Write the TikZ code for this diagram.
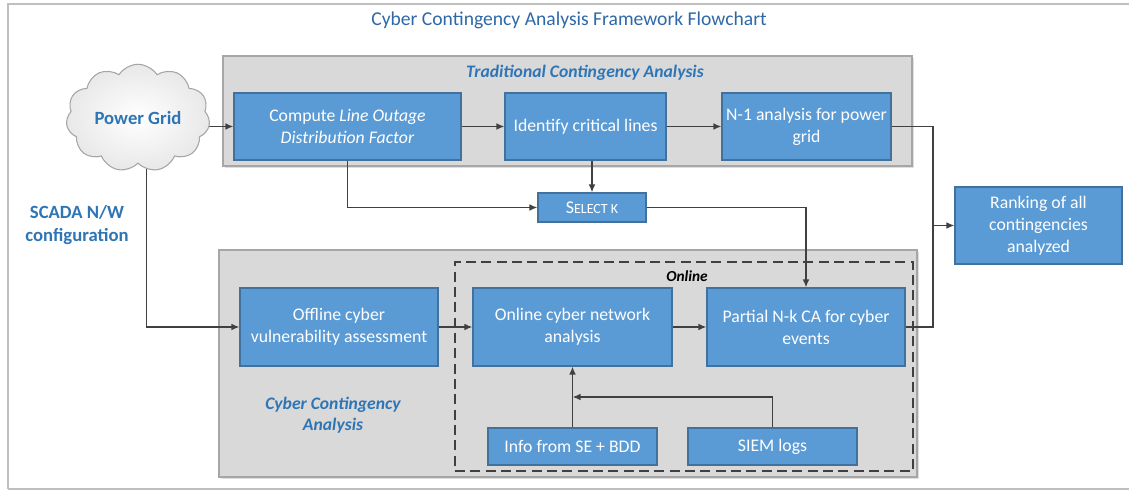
\documentclass[tikz,border=0pt]{standalone}
\usepackage{fontspec}
\setmainfont{Carlito}
\usetikzlibrary{shapes.symbols,arrows.meta,shadows,calc}
\definecolor{boxblue}{HTML}{5B9BD5}
\definecolor{boxedge}{HTML}{41719C}
\definecolor{panelgray}{HTML}{D9D9D9}
\definecolor{paneledge}{HTML}{A6A6A6}
\definecolor{titleblue}{HTML}{2F68A8}
\definecolor{labelblue}{HTML}{2E75B6}
\definecolor{wire}{HTML}{404040}
\definecolor{framegray}{HTML}{BFBFBF}
\pgfdeclarelayer{back}
\pgfdeclarelayer{mid}
\pgfsetlayers{back,mid,main}
\tikzset{
  panel/.style={draw=paneledge, fill=panelgray, line width=0.9pt, inner sep=0pt,
    drop shadow={shadow xshift=1.2pt, shadow yshift=-1.2pt, opacity=0.25}},
  dashbox/.style={draw=wire, line width=1.6pt, dash pattern=on 7.5pt off 4pt, inner sep=0pt},
  blk/.style={draw=boxedge, fill=boxblue, line width=0.8pt, inner sep=0pt, text=white,
    align=center, font=\fontsize{13.3}{16.5}\selectfont,
    drop shadow={shadow xshift=0.9pt, shadow yshift=-0.9pt, opacity=0.25}},
  wireline/.style={draw=wire, line width=1.1pt},
  arr/.style={wireline, -{Latex[length=6pt,width=5pt]}},
  bluelabel/.style={text=labelblue, align=center, font=\fontsize{14}{17.5}\selectfont\bfseries},
  panellabel/.style={text=labelblue, align=center, font=\fontsize{13.2}{16}\selectfont\bfseries\itshape},
}
% rectangle node from pixel corners: style, name, x1, y1, x2, y2, text
\newcommand{\pxbox}[7]{%
  \node[#1, rectangle, minimum width={(#5-#3)*0.75pt}, minimum height={(#6-#4)*0.75pt}]
    (#2) at ({(#3+#5)/2},{(#4+#6)/2}) {#7};}
\begin{document}
\begin{tikzpicture}[x=0.75pt,y=-0.75pt]
\useasboundingbox (0,0) rectangle (1129,491);
\clip (0,0) rectangle (1129,491);
\begin{pgfonlayer}{back}
\fill[white] (0,0) rectangle (1129,491);
\draw[framegray, line width=1.6pt] (8,489) -- (8,4) -- (1140,4);
\draw[framegray, line width=1.6pt] (8,489) -- (1140,489);
\pxbox{panel}{trad}{223}{56}{912}{166}{}
\pxbox{panel}{cyb}{219}{250}{917}{477}{}
\pxbox{dashbox}{onbox}{455}{262}{913}{471}{}
\end{pgfonlayer}

\node[text=titleblue, font=\fontsize{14.7}{17}\selectfont] (title) at (569,20) {Cyber Contingency Analysis Framework Flowchart};

\node[panellabel] (tradlbl) at (585,73) {Traditional Contingency Analysis};
\node[panellabel] (cyblbl) at (333,415) {Cyber Contingency\\Analysis};
\node[font=\fontsize{11.5}{13}\selectfont\bfseries\itshape] (onlbl) at (687,276) {Online};

\node[cloud, cloud puffs=11, cloud puff arc=115, aspect=1.5, draw=paneledge, line width=0.8pt,
  inner color=white, outer color=gray!18, minimum width=98pt, minimum height=67pt,
  font=\fontsize{14}{16}\selectfont\bfseries, text=labelblue] (pg) at (138,118) {Power Grid};

\node[bluelabel] (scada) at (77,225) {SCADA N/W\\configuration};

\pxbox{blk}{cmp}{234}{93}{461}{160}{Compute \textit{Line Outage}\\\textit{Distribution Factor}}
\pxbox{blk}{idf}{505}{93}{666}{160}{Identify critical lines}
\pxbox{blk}{n1}{722}{93}{891}{160}{N-1 analysis for power\\grid}
\pxbox{blk}{rank}{955}{187}{1122}{264}{Ranking of all\\contingencies\\analyzed}
\pxbox{blk}{sel}{538}{193}{646}{222}{{\fontsize{13.5}{14}\selectfont S}{\fontsize{10.5}{12}\selectfont ELECT K}}
\pxbox{blk}{off}{240}{288}{438}{366}{Offline cyber\\vulnerability assessment}
\pxbox{blk}{onl}{473}{288}{672}{366}{Online cyber network\\analysis}
\pxbox{blk}{pnk}{707}{288}{905}{366}{Partial N-k CA for cyber\\events}
\pxbox{blk}{info}{488}{428}{657}{465}{Info from SE + BDD}
\pxbox{blk}{siem}{688}{428}{857}{465}{SIEM logs}

\coordinate (bus) at (933,226);

\begin{pgfonlayer}{mid}
\draw[arr] (pg.center |- cmp.west) -- (cmp.west);
\draw[arr] ([xshift=6.5pt]pg.center) |- (off.west);
\draw[arr] (cmp.east) -- (idf.west);
\draw[arr] (idf.east) -- (n1.west);
\draw[arr] (cmp.south) |- (sel.west);
\draw[arr] (sel.north |- idf.south) -- (sel.north);
\draw[arr] (sel.east) -| (pnk.north);
\draw[wireline] (n1.east) -| (bus |- pnk.east) -- (pnk.east);
\draw[arr] (bus |- rank.west) -- (rank.west);
\draw[arr] (off.east) -- (onl.west);
\draw[arr] (onl.east) -- (pnk.west);
\draw[arr] (info.north) -- (onl.south);
\draw[arr] (siem.north) |- ($(info.north)!0.5!(onl.south)$);
\end{pgfonlayer}
\end{tikzpicture}
\end{document}
